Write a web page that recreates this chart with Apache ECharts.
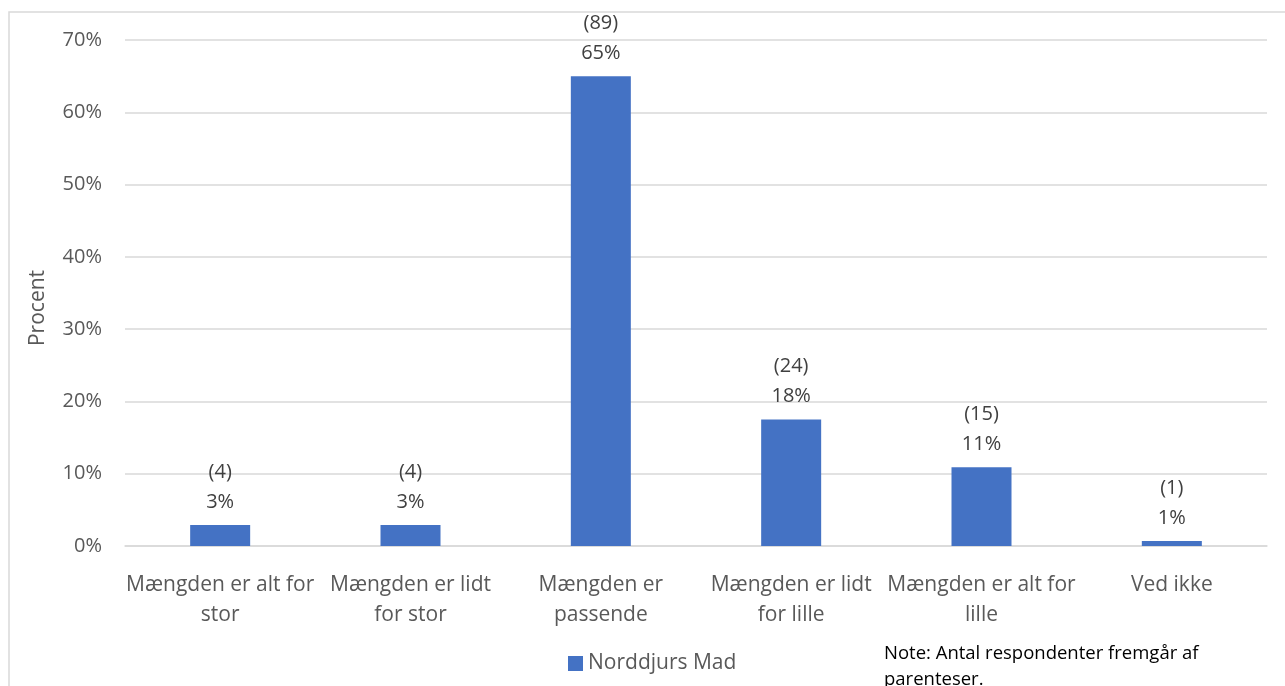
<!DOCTYPE html>
<html>
<head>
<meta charset="utf-8">
<script src="https://cdn.jsdelivr.net/npm/echarts@6/dist/echarts.min.js"></script>
<style>html,body{margin:0;padding:0;background:#fff;}#c{width:1285px;height:686px;}</style>
</head>
<body>
<div id="c"></div>
<script>
var categories = ['Mængden er alt for\nstor', 'Mængden er lidt\nfor stor', 'Mængden er\npassende', 'Mængden er lidt\nfor lille', 'Mængden er alt for\nlille', 'Ved ikke'];
var percents = [2.9, 2.9, 65.0, 17.5, 10.9, 0.7];
var counts = [4, 4, 89, 24, 15, 1];
var percentLabels = ['3%', '3%', '65%', '18%', '11%', '1%'];
var yTicks = [0, 10, 20, 30, 40, 50, 60, 70];
var seriesName = 'Norddjurs Mad';
var noteText = 'Note: Antal respondenter fremgår af\nparenteser.';

var FONT = 'Open Sans';
var chart = echarts.init(document.getElementById('c'), null, {renderer: 'canvas'});
chart.setOption({
  animation: false,
  backgroundColor: '#ffffff',
  textStyle: {fontFamily: FONT},
  grid: {left: 125, right: 18, top: 40, bottom: 140, containLabel: false},
  graphic: [
    {type: 'rect', shape: {x: 9, y: 12, width: 1300, height: 700}, style: {fill: 'none', stroke: '#d9d9d9', lineWidth: 1.5}, silent: true, z: -10},
    {type: 'text', left: 884, top: 641, style: {text: noteText, fontFamily: FONT, fontSize: 18.5, lineHeight: 26, fill: '#000000'}}
  ],
  legend: {
    data: [seriesName], left: 563, top: 648, itemWidth: 15, itemHeight: 15, itemGap: 8,
    icon: 'rect', textStyle: {fontFamily: FONT, fontSize: 21, color: '#595959'}
  },
  xAxis: {
    type: 'category', data: categories,
    axisLine: {show: true, lineStyle: {color: '#d9d9d9', width: 1.5}},
    axisTick: {show: false},
    axisLabel: {fontFamily: FONT, fontSize: 21, color: '#595959', lineHeight: 30, margin: 24, interval: 0}
  },
  yAxis: {
    type: 'value', min: 0, max: 70, interval: 10,
    name: 'Procent', nameLocation: 'middle', nameGap: 76, nameRotate: 90,
    nameTextStyle: {fontFamily: FONT, fontSize: 21, color: '#595959', padding: [0, 30, 0, 0]},
    axisLine: {show: false}, axisTick: {show: false},
    splitLine: {lineStyle: {color: '#d9d9d9', width: 1.5}},
    axisLabel: {fontFamily: FONT, fontSize: 20, color: '#595959', margin: 23,
      formatter: function (v) { return yTicks.indexOf(v) >= 0 ? v + '%' : ''; }}
  },
  series: [{
    name: seriesName, type: 'bar', data: percents, barWidth: 60,
    itemStyle: {color: '#4472c4'},
    label: {
      show: true, position: 'top', distance: 8,
      fontFamily: FONT, fontSize: 20, lineHeight: 30, color: '#404040', align: 'center',
      formatter: function (p) { return '(' + counts[p.dataIndex] + ')\n' + percentLabels[p.dataIndex]; }
    }
  }]
});
</script>
</body>
</html>
